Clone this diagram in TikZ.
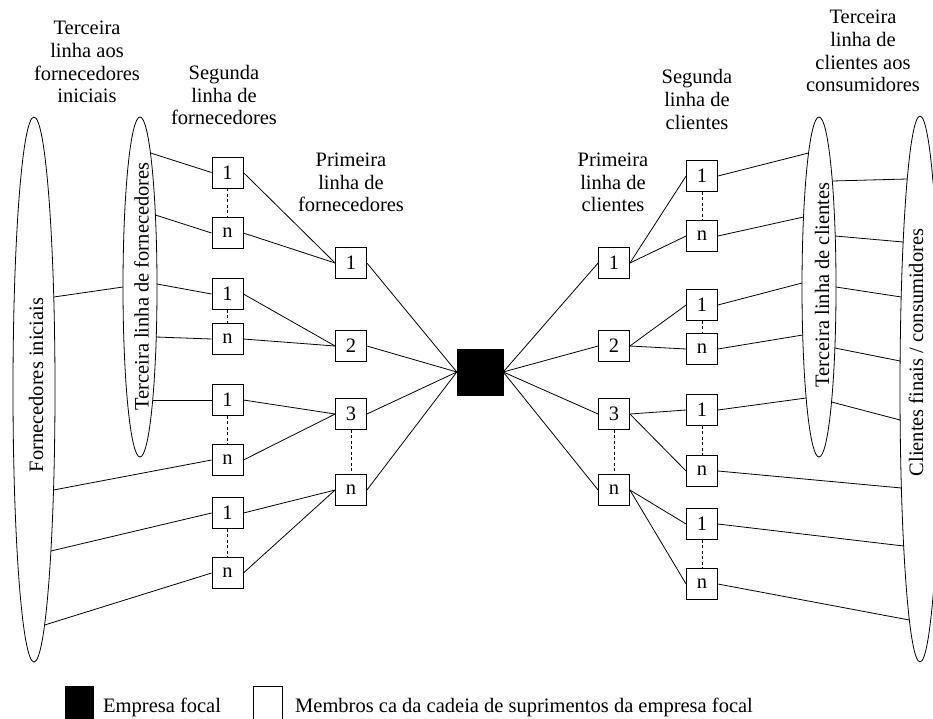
\documentclass[tikz,border=0pt]{standalone}
\usepackage{fontspec}
\setmainfont{Liberation Serif}
\usetikzlibrary{shapes.geometric}
\begin{document}
\begin{tikzpicture}[x=1pt,y=-1pt,
  txt/.style={font=\fontsize{20.5}{22.7}\selectfont},
  box/.style={draw, line width=0.8pt, minimum size=31pt, inner sep=0pt, txt},
  focal/.style={draw, fill=black, minimum size=46pt, inner sep=0pt},
  lbl/.style={align=center, inner sep=0pt, anchor=north, txt},
  ell/.style={draw, line width=0.8pt, ellipse, inner sep=0pt},
  rlbl/.style={rotate=90, inner sep=0pt, txt},
  wire/.style={line width=0.8pt},
  dashln/.style={line width=0.8pt, dash pattern=on 3pt off 2.5pt}]
\useasboundingbox (0,0) rectangle (933,718);
\clip (0,0) rectangle (933,718);

% ellipses
\node[ell, minimum width=42pt, minimum height=545pt] (FI) at (34,389.5) {};
\node[ell, minimum width=34pt, minimum height=340pt] (TF) at (140,287) {};
\node[ell, minimum width=34pt, minimum height=340pt] (TC) at (819,287) {};
\node[ell, minimum width=40pt, minimum height=546pt] (CF) at (920,389) {};
\node[rlbl] (tFI) at (36,385) {Fornecedores iniciais};
\node[rlbl] (tTF) at (141.5,286.5) {Terceira linha de fornecedores};
\node[rlbl] (tTC) at (822,285) {Terceira linha de clientes};
\node[rlbl] (tCF) at (916,352.5) {Clientes finais / consumidores};

% header labels
\node[lbl] (h1) at (87,21) {Terceira\\linha aos\\fornecedores\\iniciais};
\node[lbl] (h2) at (224,65) {Segunda\\linha de\\fornecedores};
\node[lbl] (h3) at (351,152.7) {Primeira\\linha de\\fornecedores};
\node[lbl] (h4) at (613,152.7) {Primeira\\linha de\\clientes};
\node[lbl] (h5) at (697,69.3) {Segunda\\linha de\\clientes};
\node[lbl] (h6) at (863,10) {Terceira\\linha de\\clientes aos\\consumidores};

% focal
\node[focal] (F) at (480,372) {};

% left first line
\node[box] (L1) at (351,263) {1};
\node[box] (L2) at (351,346) {2};
\node[box] (L3) at (351,414) {3};
\node[box] (Ln) at (351,490) {n};
% left second line
\node[box] (La1) at (227.5,172.5) {1};
\node[box] (Lan) at (227.5,233) {n};
\node[box] (Lb1) at (227.5,294) {1};
\node[box] (Lbn) at (227.5,339) {n};
\node[box] (Lc1) at (227.5,400) {1};
\node[box] (Lcn) at (227.5,460) {n};
\node[box] (Ld1) at (227.5,513) {1};
\node[box] (Ldn) at (227.5,573) {n};

% right first line
\node[box] (R1) at (614,263) {1};
\node[box] (R2) at (614,346) {2};
\node[box] (R3) at (614,414) {3};
\node[box] (Rn) at (614,490) {n};
% right second line
\node[box] (Ra1) at (702,176) {1};
\node[box] (Ran) at (702,236) {n};
\node[box] (Rb1) at (702,305) {1};
\node[box] (Rbn) at (702,349) {n};
\node[box] (Rc1) at (702,410) {1};
\node[box] (Rcn) at (702,471) {n};
\node[box] (Rd1) at (702,524) {1};
\node[box] (Rdn) at (702,584) {n};

% points on ellipse borders
\coordinate (fi1) at (53.8,297);
\coordinate (fi2) at (53.5,490);
\coordinate (fi3) at (50.9,551);
\coordinate (fi4) at (44.6,625);
\coordinate (tfL) at (123,287);
\coordinate (tf1) at (150.5,153);
\coordinate (tf2) at (155.4,215);
\coordinate (tf3) at (157,284);
\coordinate (tf4) at (156.2,337);
\coordinate (tf5) at (152.7,400);

\coordinate (tc1) at (808.5,153);
\coordinate (tc2) at (803.5,217);
\coordinate (tc3) at (802,283);
\coordinate (tc4) at (802.7,335);
\coordinate (tc5) at (806.1,398);
\coordinate (tr1) at (832.3,181);
\coordinate (tr2) at (835.2,236);
\coordinate (tr3) at (836,287);
\coordinate (tr4) at (834.9,348);
\coordinate (tr5) at (831.5,402);
\coordinate (cf1) at (907.2,179);
\coordinate (cf2) at (903.1,242);
\coordinate (cf3) at (901.2,297);
\coordinate (cf4) at (900.1,361);
\coordinate (cf5) at (900.1,420);
\coordinate (cf6) at (901.4,488);
\coordinate (cf7) at (903.6,546);
\coordinate (cf8) at (909.3,620);

% left wires
\draw[wire] (fi1) -- (tfL);
\draw[wire] (tf1) -- (La1.west);
\draw[wire] (tf2) -- (Lan.west);
\draw[wire] (tf3) -- (Lb1.west);
\draw[wire] (tf4) -- (Lbn.west);
\draw[wire] (tf5) -- (Lc1.west);
\draw[wire] (fi2) -- (Lcn.west);
\draw[wire] (fi3) -- (Ld1.west);
\draw[wire] (fi4) -- (Ldn.west);

\draw[wire] (La1.east) -- (L1.west);
\draw[wire] (Lan.east) -- (L1.west);
\draw[wire] (Lb1.east) -- (L2.west);
\draw[wire] (Lbn.east) -- (L2.west);
\draw[wire] (Lc1.east) -- (L3.west);
\draw[wire] (Lcn.east) -- (L3.west);
\draw[wire] (Ld1.east) -- (Ln.west);
\draw[wire] (Ldn.east) -- (Ln.west);

\draw[wire] (L1.east) -- (F.west);
\draw[wire] (L2.east) -- (F.west);
\draw[wire] (L3.east) -- (F.west);
\draw[wire] (Ln.east) -- (F.west);

% right wires
\draw[wire] (F.east) -- (R1.west);
\draw[wire] (F.east) -- (R2.west);
\draw[wire] (F.east) -- (R3.west);
\draw[wire] (F.east) -- (Rn.west);

\draw[wire] (R1.east) -- (Ra1.west);
\draw[wire] (R1.east) -- (Ran.west);
\draw[wire] (R2.east) -- (Rb1.west);
\draw[wire] (R2.east) -- (Rbn.west);
\draw[wire] (R3.east) -- (Rc1.west);
\draw[wire] (R3.east) -- (Rcn.west);
\draw[wire] (Rn.east) -- (Rd1.west);
\draw[wire] (Rn.east) -- (Rdn.west);

\draw[wire] (Ra1.east) -- (tc1);
\draw[wire] (Ran.east) -- (tc2);
\draw[wire] (Rb1.east) -- (tc3);
\draw[wire] (Rbn.east) -- (tc4);
\draw[wire] (Rc1.east) -- (tc5);
\draw[wire] (Rcn.east) -- (cf6);
\draw[wire] (Rd1.east) -- (cf7);
\draw[wire] (Rdn.east) -- (cf8);

\draw[wire] (tr1) -- (cf1);
\draw[wire] (tr2) -- (cf2);
\draw[wire] (tr3) -- (cf3);
\draw[wire] (tr4) -- (cf4);
\draw[wire] (tr5) -- (cf5);

% dashed links
\draw[dashln] (La1) -- (Lan);
\draw[dashln] (Lb1) -- (Lbn);
\draw[dashln] (Lc1) -- (Lcn);
\draw[dashln] (Ld1) -- (Ldn);
\draw[dashln] (L3) -- (Ln);
\draw[dashln] (R3) -- (Rn);
\draw[dashln] (Ra1) -- (Ran);
\draw[dashln] (Rb1) -- (Rbn);
\draw[dashln] (Rc1) -- (Rcn);
\draw[dashln] (Rd1) -- (Rdn);

% legend
\node[draw, fill=black, minimum width=28pt, minimum height=34pt, inner sep=0pt, anchor=north west] (legF) at (65,686) {};
\node[txt, anchor=base west, inner sep=0pt] (legFt) at (103,712) {Empresa focal};
\node[draw, line width=0.8pt, minimum width=29pt, minimum height=34pt, inner sep=0pt, anchor=north west] (legM) at (253,686) {};
\node[txt, anchor=base west, inner sep=0pt] (legMt) at (295,712) {Membros ca da cadeia de suprimentos da empresa focal};
\end{tikzpicture}
\end{document}
